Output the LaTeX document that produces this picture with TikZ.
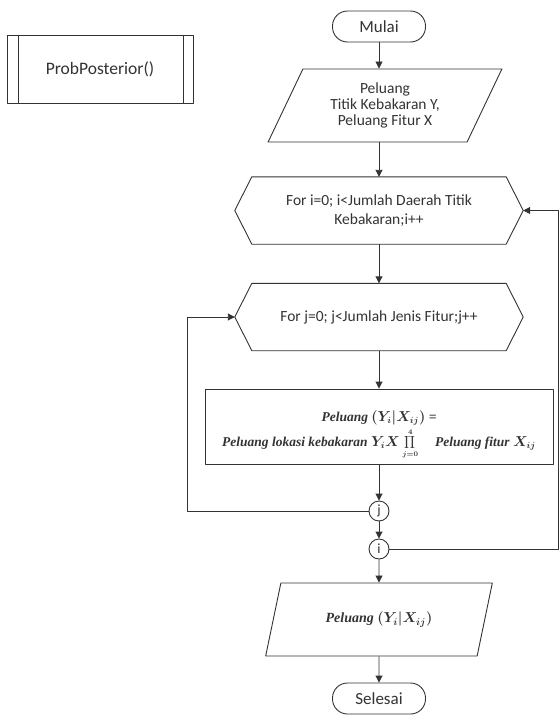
\documentclass[tikz,border=0pt]{standalone}
\usepackage{fontspec}
\setmainfont{Carlito}
\newfontfamily\formfont{Liberation Serif}
\usetikzlibrary{shapes.geometric,arrows.meta}

\newcommand{\hexout}[2]{\draw[flowline] (#1.north west) -- (#1.north east) -- ([xshift=#2]#1.east) coordinate (#1-e) -- (#1.south east) -- (#1.south west) -- ([xshift=-#2]#1.west) coordinate (#1-w) -- cycle;}
\newcommand{\smallprod}{\mathop{\scalebox{0.85}{$\displaystyle\prod$}}\limits_{\scriptscriptstyle j=0}^{\scriptscriptstyle 4}}

\begin{document}
\begin{tikzpicture}[x=1pt, y=-1pt, line join=round, >={Triangle[length=7pt,width=7pt]},
	flowline/.style={draw=black!80, line width=0.9pt},
	terminal/.style={flowline, rounded corners=15pt, minimum width=93, minimum height=31, inner sep=0pt, text=black!80, font=\fontsize{17}{20}\selectfont},
	subbox/.style={flowline, minimum width=186, minimum height=68, text=black!80, font=\fontsize{17.5}{20}\selectfont},
	iobox/.style={flowline, trapezium, trapezium stretches=true, minimum height=73, align=center, inner sep=0pt, text=black!80},
	loopbox/.style={rectangle, minimum width=254, minimum height=67, align=center, inner sep=0pt, text=black!80, font=\fontsize{15.5}{19}\selectfont},
	procbox/.style={flowline, minimum width=348, minimum height=75},
	formula/.style={anchor=base, inner sep=0pt, text=black!80, font=\fontsize{13.5}{16}\selectfont\formfont\bfseries\itshape\boldmath},
	conn/.style={flowline, circle, minimum size=20, inner sep=0pt, text=black!80, font=\fontsize{14}{16}\selectfont}]
	\useasboundingbox (0,0) rectangle (559,715);
	
	\node[subbox] (sub) at (100,69) {ProbPosterior()};
	\draw[flowline] ([xshift=12]sub.north west) -- ([xshift=12]sub.south west)
	([xshift=-10]sub.north east) -- ([xshift=-10]sub.south east);
	
	\node[terminal] (mulai) at (379,26.5) {Mulai};
	\node[iobox, trapezium left angle=63, trapezium right angle=117, minimum width=234,
	font=\fontsize{15.5}{16}\selectfont] (peluang) at (385,105.5) {Peluang\\Titik Kebakaran Y,\\Peluang Fitur X};
	\node[loopbox] (for1) at (379,210.5) {For i=0; i<Jumlah Daerah Titik\\Kebakaran;i++};
	\hexout{for1}{17}
	\node[loopbox] (for2) at (379,317) {For j=0; j<Jumlah Jenis Fitur;j++};
	\hexout{for2}{17}
	\node[procbox] (proses) at (379,426.5) {};
	\path (proses.center) ++(0,-5.5) node[formula] (rumus1) {Peluang $(Y_i|X_{ij})$ =}
	(proses.center) ++(0,19.5) node[formula] (rumus2) {Peluang lokasi kebakaran $Y_i X \smallprod$ \quad Peluang fitur $X_{ij}$};
	\node[conn] (j) at (379,511) {j};
	\node[conn] (i) at (379,549) {i};
	\node[iobox, trapezium left angle=61, trapezium right angle=119, minimum width=227,
	font=\fontsize{14}{16}\selectfont\formfont\bfseries\itshape\boldmath] (out) at (379,619.5) {Peluang $(Y_i|X_{ij})$};
	\node[terminal] (selesai) at (379,698.5) {Selesai};
	
	\path (187,0) coordinate (lx) (558,0) coordinate (rx);
	
	\draw[flowline,->] (mulai) -- (mulai.south |- peluang.north);
	\draw[flowline,->] (mulai.south |- peluang.south) -- (for1);
	\draw[flowline,->] (for1) -- (for2);
	\draw[flowline,->] (for2) -- (proses.north);
	\draw[flowline,->] (proses) -- (j);
	\draw[flowline,->] (j) -- (i);
	\draw[flowline,->] (i) -- (out);
	\draw[flowline,->] (out) -- (selesai);
	\draw[flowline,->] (j.west) -- (j.west -| lx) |- (for2-w);
	\draw[flowline,->] (i.east) -- (i.east -| rx) |- (for1-e);
\end{tikzpicture}
\end{document}
